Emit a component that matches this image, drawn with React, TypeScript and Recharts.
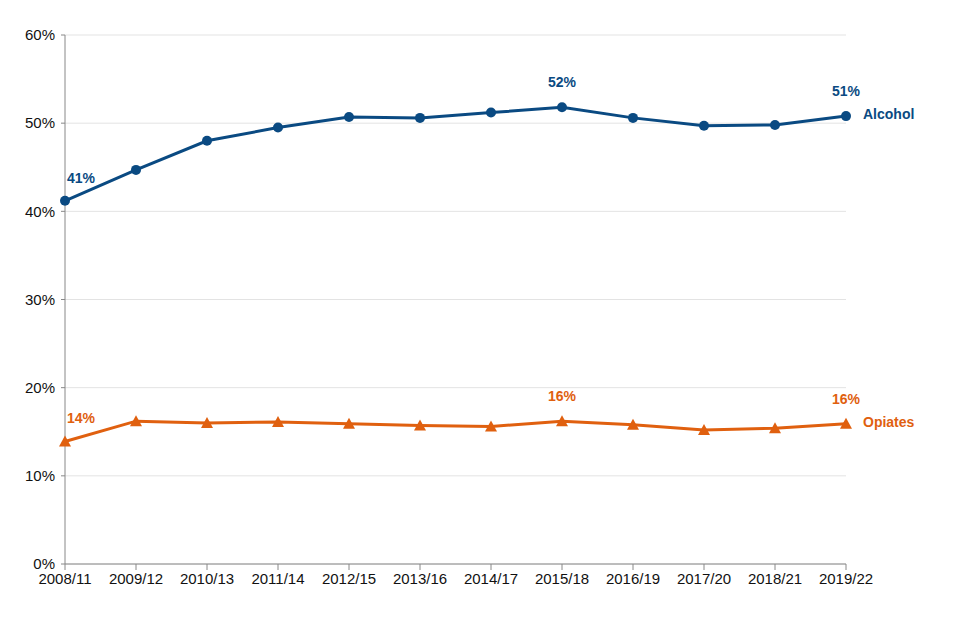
// Alcohol / opiates share chart, 2008/11 to 2019/22
import { LineChart, Line, XAxis, YAxis, CartesianGrid, LabelList } from "recharts";

const periods = [
  "2008/11", "2009/12", "2010/13", "2011/14", "2012/15", "2013/16",
  "2014/17", "2015/18", "2016/19", "2017/20", "2018/21", "2019/22",
];
const alcohol = [41.2, 44.7, 48.0, 49.5, 50.7, 50.6, 51.2, 51.8, 50.6, 49.7, 49.8, 50.8];
const opiates = [13.9, 16.2, 16.0, 16.1, 15.9, 15.7, 15.6, 16.2, 15.8, 15.2, 15.4, 15.9];
const yTicks = [0, 10, 20, 30, 40, 50, 60];
const labelled = [0, 7, 11];

const BLUE = "#0a4a82";
const ORANGE = "#e0600f";
const FONT = "'Liberation Sans', Arial, sans-serif";

const data = periods.map((p, i) => ({ period: p, alcohol: alcohol[i], opiates: opiates[i] }));

function Triangle(props: any) {
  const { cx, cy } = props;
  if (cx == null || cy == null) return null;
  return <path d={`M${cx},${cy - 6} L${cx + 6},${cy + 5} L${cx - 6},${cy + 5} Z`} fill={ORANGE} />;
}

function makeLabel(color: string, name: string) {
  return (props: any) => {
    const { x, y, value, index } = props;
    if (!labelled.includes(index)) return null;
    const last = index === periods.length - 1;
    const first = index === 0;
    return (
      <g>
        <text
          x={first ? x + 16 : x}
          y={first ? y - 18 : y - 20}
          textAnchor="middle"
          fill={color}
          fontSize={14}
          fontWeight="bold"
          fontFamily={FONT}
        >
          {Math.round(value)}%
        </text>
        {last && (
          <text x={x + 17} y={y + 3} fill={color} fontSize={14} fontWeight="bold" fontFamily={FONT}>
            {name}
          </text>
        )}
      </g>
    );
  };
}

export default function App() {
  return (
    <div style={{ position: "absolute", left: 0, top: 0, width: 960, height: 640, background: "#fff" }}>
      <LineChart width={960} height={640} data={data} margin={{ top: 35, right: 114, bottom: 46, left: 0 }}>
        <CartesianGrid vertical={false} stroke="#e3e3e3" />
        <XAxis
          dataKey="period"
          height={30}
          interval={0}
          tickSize={6}
          tickMargin={3}
          axisLine={{ stroke: "#888" }}
          tickLine={{ stroke: "#888" }}
          tick={{ fontSize: 15, fill: "#111", fontFamily: FONT }}
        />
        <YAxis
          width={65}
          domain={[0, 60]}
          ticks={yTicks}
          tickFormatter={(v: number) => `${v}%`}
          tickSize={4}
          tickMargin={6}
          axisLine={{ stroke: "#888" }}
          tickLine={{ stroke: "#888" }}
          tick={{ fontSize: 15, fill: "#111", fontFamily: FONT }}
        />
        <Line
          dataKey="alcohol"
          stroke={BLUE}
          strokeWidth={3}
          dot={{ r: 5, fill: BLUE, stroke: BLUE, strokeWidth: 0 }}
          isAnimationActive={false}
        >
          <LabelList dataKey="alcohol" content={makeLabel(BLUE, "Alcohol")} />
        </Line>
        <Line
          dataKey="opiates"
          stroke={ORANGE}
          strokeWidth={3}
          dot={<Triangle />}
          isAnimationActive={false}
        >
          <LabelList dataKey="opiates" content={makeLabel(ORANGE, "Opiates")} />
        </Line>
      </LineChart>
    </div>
  );
}
